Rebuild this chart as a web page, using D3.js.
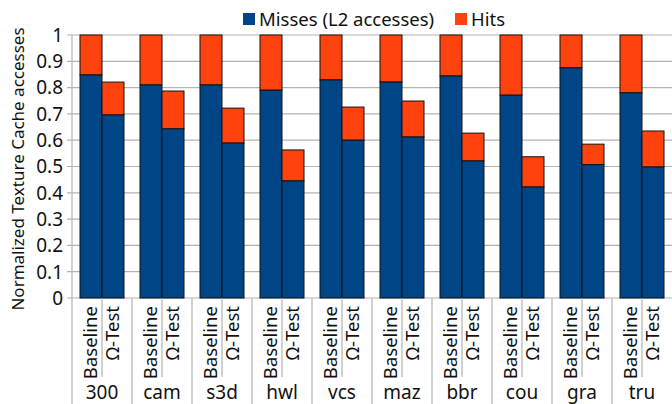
<!DOCTYPE html>
<html lang="en">
<head>
<meta charset="UTF-8">
<title>Texture cache accesses</title>
<script src="https://d3js.org/d3.v7.min.js"></script>
<style>
  body { margin: 0; background: #fff; }
  text { font-family: "Noto Sans", sans-serif; fill: #111; }
</style>
</head>
<body>
<script>
// data
const groups = ['300', 'cam', 's3d', 'hwl', 'vcs', 'maz', 'bbr', 'cou', 'gra', 'tru'];
const configs = ['Baseline', 'Ω-Test'];
const baselineMisses = [0.848, 0.81, 0.81, 0.79, 0.829, 0.821, 0.844, 0.771, 0.875, 0.78];
const baselineHits   = [0.152, 0.19, 0.19, 0.21, 0.171, 0.179, 0.156, 0.229, 0.125, 0.22];
const omegaMisses    = [0.696, 0.643, 0.589, 0.445, 0.60, 0.612, 0.521, 0.422, 0.507, 0.498];
const omegaHits      = [0.125, 0.144, 0.133, 0.118, 0.126, 0.137, 0.106, 0.115, 0.078, 0.137];
const yTicks = [0, 0.1, 0.2, 0.3, 0.4, 0.5, 0.6, 0.7, 0.8, 0.9, 1];

const width = 672, height = 404;
const margin = { top: 35, right: 0, bottom: 106, left: 72 };

const svg = d3.select('body').append('svg')
  .attr('width', width)
  .attr('height', height);

const x = d3.scaleBand().domain(groups)
  .range([margin.left, width - margin.right])
  .paddingInner(0).paddingOuter(0);

const xi = d3.scaleBand().domain(configs)
  .range([8, x.bandwidth() - 8]).padding(0);

const y = d3.scaleLinear().domain([0, 1])
  .range([height - margin.bottom, margin.top]);

// grid
svg.append('g').selectAll('line')
  .data(yTicks).enter().append('line')
  .attr('x1', margin.left - 5).attr('x2', width)
  .attr('y1', d => y(d)).attr('y2', d => y(d))
  .attr('stroke', '#b3b3b3').attr('stroke-width', 1.2);

// y labels
svg.append('g').selectAll('text')
  .data(yTicks).enter().append('text')
  .attr('x', margin.left - 9)
  .attr('y', d => y(d))
  .attr('dy', '0.36em')
  .attr('text-anchor', 'end')
  .style('font-size', '19px')
  .text(d => d === 0 ? '0' : d === 1 ? '1' : d3.format('.1f')(d));

// y title
svg.append('text')
  .attr('transform', `translate(24, 169) rotate(-90)`)
  .attr('text-anchor', 'middle')
  .style('font-size', '17px')
  .text('Normalized Texture Cache accesses');

// bars
const rows = [];
groups.forEach((g, i) => {
  rows.push({ g, c: configs[0], misses: baselineMisses[i], hits: baselineHits[i] });
  rows.push({ g, c: configs[1], misses: omegaMisses[i], hits: omegaHits[i] });
});

const bar = svg.append('g').selectAll('g')
  .data(rows).enter().append('g')
  .attr('transform', d => `translate(${x(d.g) + xi(d.c)},0)`);

bar.append('rect')
  .attr('x', 0).attr('width', xi.bandwidth())
  .attr('y', d => y(d.misses + d.hits))
  .attr('height', d => y(d.misses) - y(d.misses + d.hits))
  .attr('fill', '#ff420e').attr('stroke', '#111').attr('stroke-width', 1);

bar.append('rect')
  .attr('x', 0).attr('width', xi.bandwidth())
  .attr('y', d => y(d.misses))
  .attr('height', d => y(0) - y(d.misses))
  .attr('fill', '#004586').attr('stroke', '#111').attr('stroke-width', 1);

// axis lines
svg.append('line')
  .attr('x1', margin.left).attr('x2', margin.left)
  .attr('y1', y(1)).attr('y2', height)
  .attr('stroke', '#b3b3b3').attr('stroke-width', 1.2);

// group separators
svg.append('g').selectAll('line')
  .data(groups.slice(1)).enter().append('line')
  .attr('x1', d => x(d)).attr('x2', d => x(d))
  .attr('y1', y(0)).attr('y2', height)
  .attr('stroke', '#b3b3b3').attr('stroke-width', 1.2);

// inner separators
svg.append('g').selectAll('line')
  .data(groups).enter().append('line')
  .attr('x1', d => x(d) + xi(configs[1]))
  .attr('x2', d => x(d) + xi(configs[1]))
  .attr('y1', y(0)).attr('y2', 377)
  .attr('stroke', '#b3b3b3').attr('stroke-width', 1.2);

// config labels
svg.append('g').selectAll('text')
  .data(rows).enter().append('text')
  .attr('transform', d => `translate(${x(d.g) + xi(d.c) + xi.bandwidth() / 2 + 6}, 306) rotate(-90)`)
  .attr('text-anchor', 'end')
  .style('font-size', '18.5px')
  .text(d => d.c);

// group labels
svg.append('g').selectAll('text')
  .data(groups).enter().append('text')
  .attr('x', d => x(d) + x.bandwidth() / 2)
  .attr('y', 399)
  .attr('text-anchor', 'middle')
  .style('font-size', '19px')
  .text(d => d);

// legend
const legend = [
  { label: 'Misses (L2 accesses)', color: '#004586', x: 243 },
  { label: 'Hits', color: '#ff420e', x: 455 }
];
const lg = svg.append('g').selectAll('g')
  .data(legend).enter().append('g')
  .attr('transform', d => `translate(${d.x}, 13)`);
lg.append('rect').attr('width', 12).attr('height', 12).attr('fill', d => d.color);
lg.append('text').attr('x', 16).attr('y', 6).attr('dy', '0.36em')
  .style('font-size', '18.5px').text(d => d.label);
</script>
</body>
</html>
